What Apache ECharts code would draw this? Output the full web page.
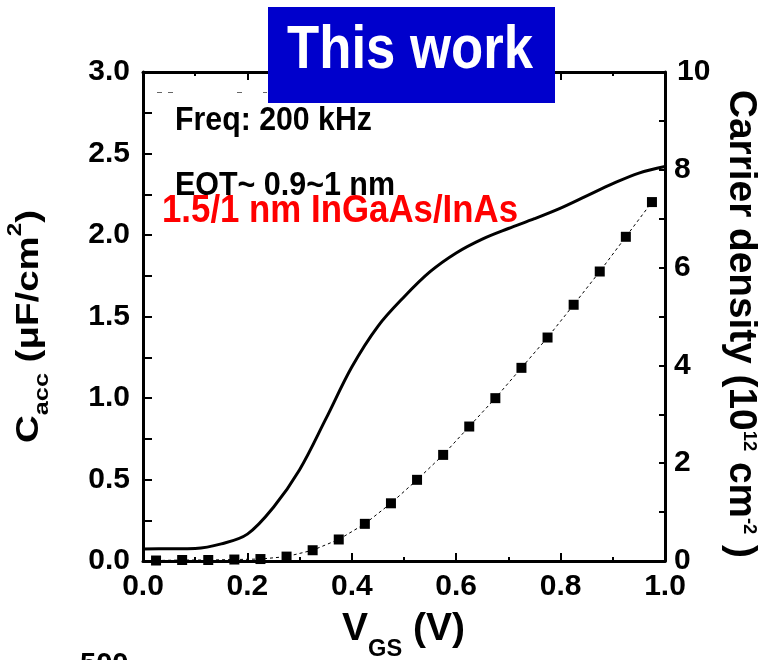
<!DOCTYPE html>
<html>
<head>
<meta charset="utf-8">
<script src="https://cdn.jsdelivr.net/npm/echarts@6/dist/echarts.min.js"></script>
<style>
  html, body { margin: 0; padding: 0; background: #fff; }
  #chart { width: 768px; height: 660px; }
</style>
</head>
<body>
<div id="chart"></div>
<script>
// Gate-voltage sweep of the accumulation-capacitance curve (V)
const vgsCurve = [0, 0.05, 0.10, 0.15, 0.20, 0.25, 0.30, 0.35, 0.40, 0.45, 0.50,
                  0.55, 0.60, 0.65, 0.70, 0.75, 0.80, 0.85, 0.90, 0.95, 1.00];
// Accumulation capacitance C_acc (µF/cm²)
const cacc = [0.074, 0.075, 0.077, 0.105, 0.165, 0.33, 0.56, 0.87, 1.19, 1.44, 1.62,
              1.775, 1.89, 1.975, 2.04, 2.10, 2.165, 2.24, 2.315, 2.38, 2.42];

// Gate voltages of the integrated carrier-density points (V)
const vgsPoints = [0.025, 0.075, 0.125, 0.175, 0.225, 0.275, 0.325, 0.375, 0.425, 0.475,
                   0.525, 0.575, 0.625, 0.675, 0.725, 0.775, 0.825, 0.875, 0.925, 0.975];
// Carrier density (10^12 cm^-2)
const carrier = [0.01, 0.02, 0.02, 0.03, 0.04, 0.09, 0.22, 0.44, 0.76, 1.18,
                 1.66, 2.17, 2.75, 3.33, 3.95, 4.57, 5.24, 5.92, 6.63, 7.34];

// Tick labels
const xTickLabels = ['0.0', '0.2', '0.4', '0.6', '0.8', '1.0'];
const leftTickLabels = ['0.0', '0.5', '1.0', '1.5', '2.0', '2.5', '3.0'];
const rightTickLabels = ['0', '2', '4', '6', '8', '10'];

const FONT = '"Liberation Sans", Arial, Helvetica, sans-serif';

// --- text runs built from pieces (main text, sub/superscripts) ---
const measureCtx = document.createElement('canvas').getContext('2d');
function advance(text, size) {
  measureCtx.font = 'bold ' + size + 'px "Liberation Sans"';
  return measureCtx.measureText(text).width;
}
const MID_TO_BASE = 0.35; // distance from 'middle' anchor down to alphabetic baseline, in em
function textRun(pieces, opts) {
  let cursor = 0;
  const children = pieces.map(function (p) {
    const el = {
      type: 'text', x: cursor, y: (p.dy || 0) - MID_TO_BASE * p.size, z: 100,
      style: {
        text: p.text, fontSize: p.size, fontWeight: 'bold', fontFamily: FONT,
        fill: opts.color || '#000', align: 'left', verticalAlign: 'middle'
      }
    };
    cursor += advance(p.text, p.size);
    return el;
  });
  return {
    type: 'group', x: opts.x, y: opts.y, rotation: opts.rotation || 0,
    scaleX: opts.length ? opts.length / cursor : 1, z: 100, children: children
  };
}

const tickStyle = { color: '#000', width: 2 };
const axisLineStyle = { show: true, onZero: false, lineStyle: { color: '#000', width: 3 } };
const labelStyle = { color: '#000', fontSize: 30, fontWeight: 'bold', fontFamily: FONT };

const option = {
  animation: false,
  backgroundColor: '#fff',
  grid: { left: 143, right: 103, top: 72, bottom: 99, containLabel: false, outerBoundsMode: 'none' },
  xAxis: [
    {
      type: 'value', min: 0, max: 1, interval: 0.2, position: 'bottom',
      axisLine: axisLineStyle,
      axisTick: { show: true, inside: true, length: 8, lineStyle: tickStyle },
      minorTick: { show: true, splitNumber: 2, length: 4, lineStyle: tickStyle },
      splitLine: { show: false },
      axisLabel: Object.assign({ margin: 11, formatter: function (v) { return xTickLabels[Math.round(v / 0.2)]; } }, labelStyle)
    },
    {
      type: 'value', min: 0, max: 1, interval: 0.2, position: 'top',
      axisLine: axisLineStyle,
      axisTick: { show: true, inside: true, length: 8, lineStyle: tickStyle },
      minorTick: { show: true, splitNumber: 2, length: 4, lineStyle: tickStyle },
      splitLine: { show: false },
      axisLabel: { show: false }
    }
  ],
  yAxis: [
    {
      type: 'value', min: 0, max: 3, interval: 0.5, position: 'left',
      axisLine: axisLineStyle,
      axisTick: { show: true, inside: true, length: 9, lineStyle: tickStyle },
      minorTick: { show: true, splitNumber: 2, length: 9, lineStyle: tickStyle },
      splitLine: { show: false },
      axisLabel: Object.assign({ margin: 13, formatter: function (v) { return leftTickLabels[Math.round(v / 0.5)]; } }, labelStyle)
    },
    {
      type: 'value', min: 0, max: 10, interval: 2, position: 'right',
      axisLine: axisLineStyle,
      axisTick: { show: true, inside: true, length: 6, lineStyle: tickStyle },
      minorTick: { show: true, splitNumber: 2, length: 6, lineStyle: tickStyle },
      splitLine: { show: false },
      axisLabel: Object.assign({
        margin: 9,
        formatter: function (v) {
          const t = rightTickLabels[Math.round(v / 2)];
          return t.length > 1 ? '{w|' + t + '}' : t;
        },
        rich: { w: { padding: [0, 0, 0, 3], fontSize: 30, fontWeight: 'bold', fontFamily: FONT, color: '#000' } }
      }, labelStyle)
    }
  ],
  series: [
    {
      name: 'C_acc', type: 'line', xAxisIndex: 0, yAxisIndex: 0,
      data: vgsCurve.map(function (v, i) { return [v, cacc[i]]; }),
      smooth: 0.35, symbol: 'none', showSymbol: false,
      lineStyle: { color: '#000', width: 3 }, z: 3
    },
    {
      name: 'Carrier density', type: 'line', xAxisIndex: 0, yAxisIndex: 1,
      data: vgsPoints.map(function (v, i) { return [v, carrier[i]]; }),
      symbol: 'rect', symbolSize: 10, showAllSymbol: true, clip: false,
      itemStyle: { color: '#000' },
      lineStyle: { color: '#000', width: 1, type: [3, 3] }, z: 3
    }
  ],
  graphic: {
    elements: [
      // faint dashed remnant just under the top frame
      { type: 'line', z: 90, shape: { x1: 157, y1: 92.5, x2: 162, y2: 92.5 }, style: { stroke: '#666', lineWidth: 1 } },
      { type: 'line', z: 90, shape: { x1: 168, y1: 92.5, x2: 173, y2: 92.5 }, style: { stroke: '#666', lineWidth: 1 } },
      { type: 'line', z: 90, shape: { x1: 237, y1: 92.5, x2: 242, y2: 92.5 }, style: { stroke: '#666', lineWidth: 1 } },
      { type: 'line', z: 90, shape: { x1: 263, y1: 92.5, x2: 267, y2: 92.5 }, style: { stroke: '#666', lineWidth: 1 } },
      // "This work" banner
      { type: 'rect', z: 99, shape: { x: 268, y: 7, width: 287, height: 96 }, style: { fill: '#0000CC' } },
      textRun([{ text: 'This work', size: 62 }], { x: 287, y: 73, length: 246, color: '#fff' }),
      // annotations
      textRun([{ text: 'Freq: 200 kHz', size: 34 }], { x: 175, y: 133, length: 197 }),
      textRun([{ text: 'EOT~ 0.9~1 nm', size: 33 }], { x: 175, y: 197, length: 220 }),
      textRun([{ text: '1.5/1 nm InGaAs/InAs', size: 38 }], { x: 162, y: 225, length: 356, color: '#FF0000' }),
      // axis titles
      textRun([
        { text: 'V', size: 38 },
        { text: 'GS', size: 23, dy: 15 },
        { text: ' (V)', size: 38 }
      ], { x: 342, y: 643, length: 123 }),
      textRun([
        { text: 'C', size: 32 },
        { text: 'acc', size: 21, dy: 10 },
        { text: ' (\u03BCF/cm', size: 32 },
        { text: '2', size: 20, dy: -18 },
        { text: ')', size: 32 }
      ], { x: 40, y: 443, rotation: Math.PI / 2, length: 233 }),
      textRun([
        { text: 'Carrier density (10', size: 38 },
        { text: '12', size: 18, dy: -16 },
        { text: ' cm', size: 38 },
        { text: '-2', size: 18, dy: -16 },
        { text: ' )', size: 38 }
      ], { x: 727, y: 90, rotation: -Math.PI / 2, length: 468 }),
      // top of the next panel's tick label peeking in at the bottom edge
      textRun([{ text: '500', size: 29 }], { x: 80, y: 675 })
    ]
  }
};

const chart = echarts.init(document.getElementById('chart'), null, { renderer: 'canvas' });
chart.setOption(option);
</script>
</body>
</html>
